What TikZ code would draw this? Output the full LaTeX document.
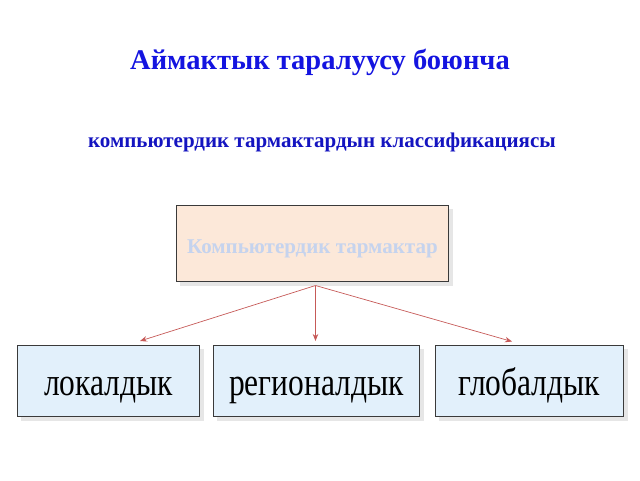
\documentclass[tikz,border=0pt]{standalone}
\usepackage{fontspec}
\setmainfont{Liberation Serif}
\usetikzlibrary{arrows.meta}
\definecolor{titleblue}{HTML}{1414E0}
\definecolor{subblue}{HTML}{1414C0}
\definecolor{topfill}{HTML}{FCE8D9}
\definecolor{topfont}{HTML}{C5D3EE}
\definecolor{botfill}{HTML}{E2F0FB}
\definecolor{arrowred}{HTML}{C65A58}
\definecolor{boxline}{HTML}{3A3A3A}
\definecolor{shadowgrey}{HTML}{E6E6E6}
\newcommand{\tallword}[1]{\scalebox{1}[1.24]{#1}}
\tikzset{
  box/.style={draw=boxline, line width=0.9pt, inner sep=0pt, anchor=north west},
  topbox/.style={box, fill=topfill, minimum width=272pt, minimum height=76pt,
    text height=21pt, text depth=1pt,
    font=\bfseries\fontsize{21}{24}\selectfont, text=topfont},
  botbox/.style={box, fill=botfill, minimum height=71pt,
    text height=30pt, text depth=1pt,
    font=\fontsize{31.5}{36}\selectfont, text=black},
  conn/.style={draw=arrowred, line width=0.7pt, -{Stealth[length=7pt,width=5.5pt]}}
}
\begin{document}
\begin{tikzpicture}[x=1pt,y=-1pt]
\useasboundingbox (0,0) rectangle (640,480);
\node[font=\bfseries\fontsize{28.5}{32}\selectfont, text=titleblue] (title) at (320,62) {Аймактык таралуусу боюнча};
\node[font=\bfseries\fontsize{21}{24}\selectfont, text=subblue] (sub) at (322,142) {компьютердик тармактардын классификациясы};
% shadows
\fill[shadowgrey] (180,209) rectangle (453,286);
\fill[shadowgrey] (21,349) rectangle (204,421);
\fill[shadowgrey] (217,349) rectangle (424,421);
\fill[shadowgrey] (439,349) rectangle (628,421);
\node[topbox] (top) at (176,205) {Компьютердик тармактар};
\node[botbox, minimum width=182pt] (loc) at (17,345) {\tallword{локалдык}};
\node[botbox, minimum width=206pt] (reg) at (213,345) {\tallword{регионалдык}};
\node[botbox, minimum width=188pt] (glob) at (435,345) {\tallword{глобалдык}};
\coordinate (src) at (315.5,285.5);
\coordinate (t1) at (140,341);
\coordinate (t2) at (315.5,341);
\coordinate (t3) at (512,341.5);
\draw[conn] (src) -- (t1);
\draw[conn] (src) -- (t2);
\draw[conn] (src) -- (t3);
\end{tikzpicture}
\end{document}
